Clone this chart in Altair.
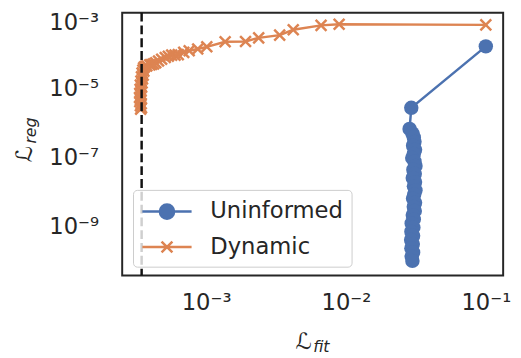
import altair as alt
import pandas as pd

series_names = ["Uninformed", "Dynamic"]
series_colors = ["#4c72b0", "#dd8452"]

# values, as log10 exponents
uninf_fit_log10 = [-1.000, -1.533, -1.545,
                   -1.525, -1.515, -1.510, -1.520, -1.506, -1.515, -1.526, -1.510,
                   -1.503, -1.518, -1.508, -1.522, -1.506, -1.514, -1.503, -1.512,
                   -1.520, -1.506, -1.515, -1.508, -1.522, -1.515, -1.530, -1.518,
                   -1.532, -1.520, -1.534, -1.522, -1.532, -1.520, -1.530, -1.525]
uninf_reg_log10 = [-3.774, -5.560, -6.175,
                   -6.30, -6.42, -6.55, -6.66, -6.78, -6.90, -7.02, -7.12,
                   -7.25, -7.36, -7.48, -7.60, -7.72, -7.84, -7.96, -8.08,
                   -8.20, -8.32, -8.44, -8.56, -8.68, -8.80, -8.92, -9.04,
                   -9.16, -9.28, -9.40, -9.52, -9.64, -9.76, -9.88, -10.01]

dyn_fit_log10 = [-1.000, -2.049, -2.178, -2.377, -2.474, -2.624, -2.718, -2.864,
                 -2.995, -3.060, -3.121, -3.160, -3.199, -3.222, -3.246, -3.270,
                 -3.292, -3.318, -3.340, -3.360, -3.375, -3.390, -3.403, -3.424,
                 -3.438, -3.447, -3.452, -3.445, -3.458, -3.450, -3.462, -3.455,
                 -3.466, -3.458, -3.470, -3.461, -3.472, -3.465, -3.474, -3.466,
                 -3.476, -3.468, -3.474, -3.464, -3.470, -3.462, -3.468]
dyn_reg_log10 = [-3.150, -3.131, -3.165, -3.292, -3.448, -3.527, -3.632, -3.641,
                 -3.788, -3.850, -3.902, -3.950, -4.015, -4.030, -4.029, -4.060,
                 -4.100, -4.150, -4.199, -4.250, -4.284, -4.300, -4.313, -4.341,
                 -4.36, -4.40, -4.46, -4.50, -4.55, -4.61, -4.66, -4.72,
                 -4.78, -4.84, -4.90, -4.96, -5.02, -5.08, -5.14, -5.20,
                 -5.26, -5.32, -5.38, -5.44, -5.50, -5.56, -5.60]

threshold_fit_log10 = -3.461

x_ticks = [1e-3, 1e-2, 1e-1]
x_tick_labels = ["10⁻³", "10⁻²", "10⁻¹"]
y_ticks = [1e-3, 1e-5, 1e-7, 1e-9]
y_tick_labels = ["10⁻³", "10⁻⁵", "10⁻⁷", "10⁻⁹"]

x_domain_log10 = [-3.6, -0.876]
y_domain_log10 = [-10.436, -2.796]

rows = []
for name, fx, ry in [("Uninformed", uninf_fit_log10, uninf_reg_log10),
                     ("Dynamic", dyn_fit_log10, dyn_reg_log10)]:
    for i, (a, b) in enumerate(zip(fx, ry)):
        rows.append({"series": name, "idx": i, "fit": 10 ** a, "reg": 10 ** b})
df = pd.DataFrame(rows)


def label_expr(vals, labs):
    parts = [f"abs(datum.value / {v} - 1) < 0.01 ? '{l}'" for v, l in zip(vals, labs)]
    return " : ".join(parts) + " : ''"


xscale = alt.Scale(type="log", domain=[10 ** v for v in x_domain_log10])
yscale = alt.Scale(type="log", domain=[10 ** v for v in y_domain_log10])
xaxis = alt.Axis(values=x_ticks, labelExpr=label_expr(x_ticks, x_tick_labels),
                 labelPadding=17, title=None, grid=False, ticks=False, tickSize=0,
                 domain=False, labelFlush=False)
yaxis = alt.Axis(values=y_ticks, labelExpr=label_expr(y_ticks, y_tick_labels),
                 labelPadding=24, title=None, grid=False, ticks=False, tickSize=0,
                 domain=False, labelFlush=False,
                 labelOffset={"condition": {"test": "datum.value > 0.0005", "value": 3},
                              "value": 0})

X = alt.X("fit:Q", scale=xscale, axis=xaxis)
Y = alt.Y("reg:Q", scale=yscale, axis=yaxis)

base = alt.Chart(df)
blue = base.transform_filter(alt.datum.series == "Uninformed")
orange = base.transform_filter(alt.datum.series == "Dynamic")

blue_line = blue.mark_line(color=series_colors[0], strokeWidth=2.5).encode(
    x=X, y=Y, order="idx:Q")
blue_pts = blue.mark_circle(color=series_colors[0], size=215, opacity=1).encode(x=X, y=Y)
orange_line = orange.mark_line(color=series_colors[1], strokeWidth=2.5).encode(
    x=X, y=Y, order="idx:Q")
x_path = "M-1,-1L1,1M-1,1L1,-1"
orange_pts = orange.mark_point(shape=x_path, color=series_colors[1], strokeWidth=2.5,
                               size=121, filled=False, opacity=1).encode(x=X, y=Y)

rule = alt.Chart(pd.DataFrame({"thr": [10 ** threshold_fit_log10]})).mark_rule(
    color="#111111", strokeWidth=2.5, strokeDash=[9, 4]).encode(
    x=alt.X("thr:Q", scale=xscale, axis=xaxis))


def ring(r):
    return f"M-{r},0A{r},{r},0,1,0,{r},0A{r},{r},0,1,0,-{r},0"


legend_paths = [
    "M-2,0L2,0" + ring(0.1) + ring(0.28) + ring(0.46) + ring(0.58),
    "M-2,0L2,0M-0.44,-0.44L0.44,0.44M-0.44,0.44L0.44,-0.44",
]
leg_df = pd.DataFrame({"series": series_names, "fit": [1e-2, 1e-2], "reg": [1e-5, 1e-5]})
legend_layer = alt.Chart(leg_df).transform_filter("false").mark_point(
    filled=False, opacity=1).encode(
    x=X, y=Y,
    color=alt.Color("series:N", scale=alt.Scale(domain=series_names, range=series_colors),
                    legend=alt.Legend(title=None)),
    shape=alt.Shape("series:N", scale=alt.Scale(domain=series_names, range=legend_paths),
                    legend=alt.Legend(title=None)),
)

one = pd.DataFrame({"t": ["ℒ"]})
xt_L = alt.Chart(one).mark_text(font="DejaVu Sans", fontSize=23, color="#262626",
                                align="center", baseline="alphabetic").encode(
    text="t:N", x=alt.value(184), y=alt.value(342))
xt_sub = alt.Chart(pd.DataFrame({"t": ["fit"]})).mark_text(
    font="DejaVu Sans", fontSize=16, fontStyle="italic", color="#262626",
    align="left", baseline="alphabetic").encode(text="t:N", x=alt.value(194), y=alt.value(345))
yt_L = alt.Chart(one).mark_text(font="DejaVu Sans", fontSize=23, color="#262626",
                                align="center", baseline="alphabetic", angle=270).encode(
    text="t:N", x=alt.value(-92), y=alt.value(144))
yt_sub = alt.Chart(pd.DataFrame({"t": ["reg"]})).mark_text(
    font="DejaVu Sans", fontSize=16, fontStyle="italic", color="#262626",
    align="left", baseline="alphabetic", angle=270).encode(
    text="t:N", x=alt.value(-88), y=alt.value(133))

chart = alt.layer(
    blue_line, blue_pts, orange_line, orange_pts, rule, legend_layer,
    xt_L, xt_sub, yt_L, yt_sub
).properties(
    width=387, height=267,
    padding={"left": 116, "top": 2, "right": 10, "bottom": 81},
    autosize=alt.AutoSizeParams(type="none"),
).configure_view(
    stroke="#262626", strokeWidth=2
).configure_axis(
    labelFont="DejaVu Sans", labelFontSize=23, labelColor="#262626"
).configure_legend(
    orient="none", legendX=11, legendY=180,
    fillColor="rgba(255,255,255,0.8)", strokeColor="#cccccc", cornerRadius=4,
    padding=8, labelFont="DejaVu Sans", labelFontSize=23, labelColor="#262626",
    symbolSize=625, symbolStrokeWidth=2.5, symbolOffset=12.5, labelOffset=30,
    symbolOpacity=1, rowPadding=9,
)

chart.save("out.html", embed_options={"renderer": "svg", "actions": False})
